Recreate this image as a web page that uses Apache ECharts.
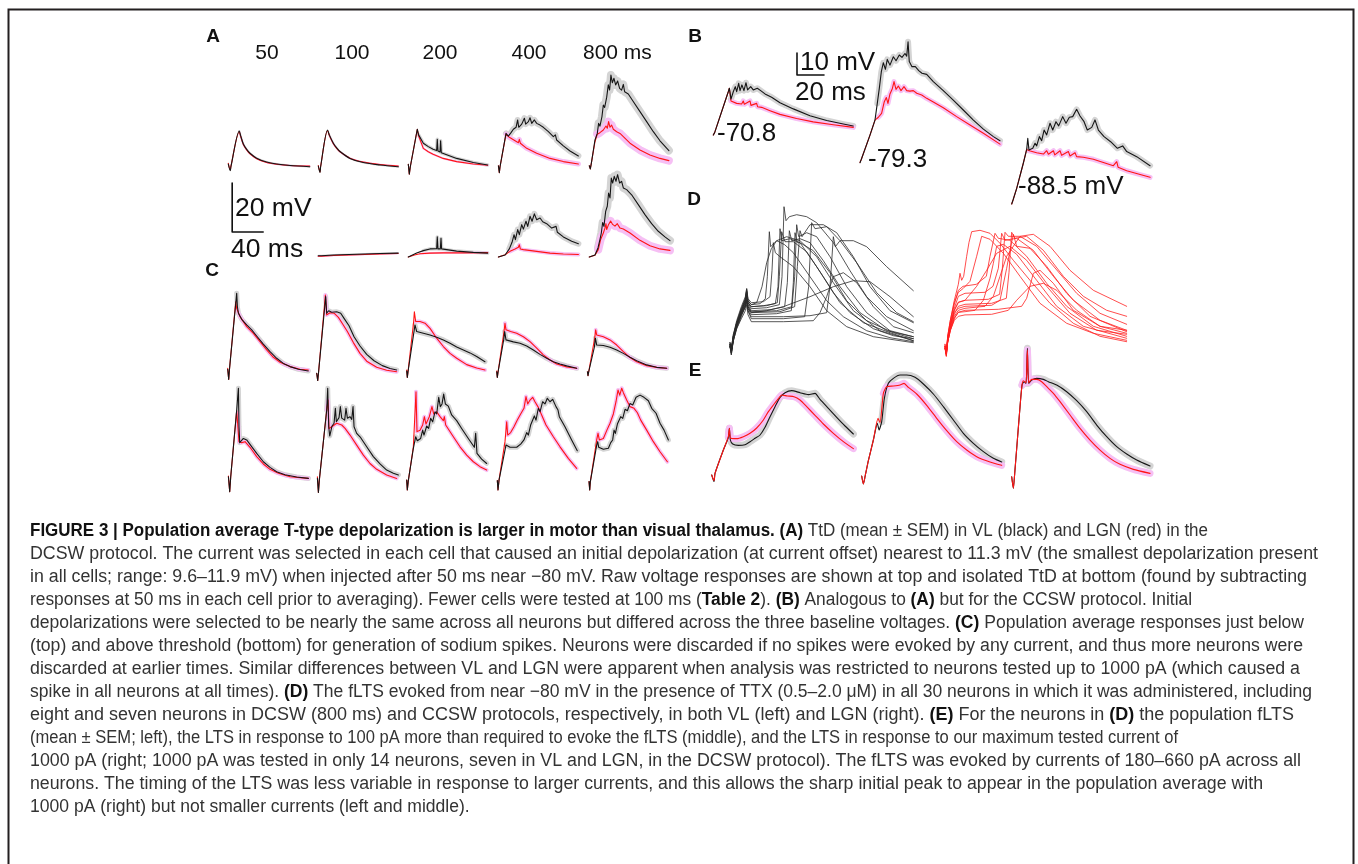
<!DOCTYPE html>
<html><head><meta charset="utf-8">
<script src="https://cdn.jsdelivr.net/npm/echarts@6/dist/echarts.min.js"></script>
<style>html,body{margin:0;padding:0;background:#fff}#c{width:1358px;height:864px}</style>
</head><body><div id="c"></div>
<script>
// ================= DATA (time in ms, voltage in mV) =================
const A_headers = ['50', '100', '200', '400', '800 ms'];
// ---- Panel A, raw responses (top row), VL = black, LGN = red ----
const A_top_50_VL = [[0,0.8],[2.6,-1.9],[3.4,-0.3],[14.2,14.3],[15.9,12.4],[19.4,9.0],[23.7,6.8],[28,5.2],[36.6,3.2],[49.5,1.6],[62.4,0.8],[79.6,0.2],[105,-0.3]];
const A_top_50_LGN = [[0,1.1],[2.6,-1.6],[3.4,0],[14.2,14.0],[15.9,12.2],[19.4,8.8],[23.7,6.6],[28,5.0],[36.6,3.0],[49.5,1.4],[62.4,0.7],[79.6,0.2],[105,0]];
const A_top_100_VL = [[0,0],[2.2,-2.7],[3,-0.3],[12,14.7],[14.2,12.7],[19.4,9.3],[23.7,7.4],[28,5.9],[40.9,3.1],[58,1.4],[79.6,0.4],[103.2,-0.3]];
const A_top_100_LGN = [[0,0.2],[2.2,-2.5],[3,-0.2],[12,14.5],[14.2,12.5],[19.4,9.1],[23.7,7.2],[28,5.8],[40.9,3.2],[58,1.6],[79.6,0.6],[103.2,0]];
const A_top_200_VL = [[0,0.7],[1.3,-3.3],[2.6,-0.3],[11.6,15],[13.3,12.7],[19.4,9.3],[25.8,7.9],[32,6.8],[36.6,6.3],[37.4,10.9],[38.3,6.1],[40.9,5.7],[41.7,10.3],[42.6,5.4],[49.5,4.6],[62.4,3.1],[83.9,1.4],[102.4,0.4]];
const A_top_200_LGN = [[0,0.7],[1.3,-3.3],[2.6,-0.3],[11.6,15],[13.3,12.3],[19.4,7.2],[25.8,5.8],[32,4.8],[45,3.1],[62.4,1.8],[83.9,0.8],[102.4,0.3]];
const A_top_400_VL = [[2.2,0.1],[3.4,-2.7],[4.3,-0.3],[12,13.3],[15,12.2],[18.5,13.6],[21.5,15],[25,15.8],[27,18.8],[28.4,15.8],[32.3,17.1],[35.7,19.5],[37.4,17.1],[40.9,18.1],[43,19.7],[45.2,17.4],[48.6,18.8],[51.6,17.4],[55.9,16.7],[60.2,15.8],[66.7,14],[73.1,12],[75.7,12.7],[77.4,10.6],[86,8.2],[94.6,6.1],[105.4,4.1]];
const A_top_400_LGN = [[2.2,0.1],[3.4,-2.7],[4.3,-0.3],[12,13],[16.3,11.7],[23.7,10.3],[28,9.5],[29.2,10.9],[30.5,9.3],[38.7,7.2],[51.6,5.2],[68.8,3.1],[86,1.8],[105.4,0.8]];
const A_top_800_VL = [[1.3,0.1],[2.6,-1.2],[3.9,1.1],[8.6,10.6],[11.6,13.3],[13.3,17.4],[15,16.3],[17.6,20.1],[19.4,24.9],[21.1,23.9],[23.7,28],[25.8,33.1],[27.5,31],[29.2,37.1],[31,34],[33.1,35.8],[35.3,33.1],[37.8,34.7],[40.4,31.7],[43,31],[45.2,33.3],[46.9,30.3],[51.6,29.4],[58,26.3],[66.7,22.2],[75.3,18.1],[83.9,14],[92.5,10.3],[104,6.3]];
const A_top_800_LGN = [[1.3,0.1],[2.6,-1.2],[3.9,1.1],[8.6,9.9],[11.6,13],[15,13.6],[19.4,14.7],[22.8,16.3],[24.5,15.4],[26.2,18.1],[28,15.8],[30.1,16.7],[32.3,15],[36.6,14],[40.9,13.3],[45.2,12],[53.8,9.3],[66.7,6.5],[79.6,4.5],[92.5,3.1],[104,2.2]];
// ---- Panel A, isolated TtD (bottom row) ----
const A_bot_100_VL = [[0,0.5],[2,0.9],[4,0.5],[20,0.8],[50,1.1],[80,1.4],[103,1.6]];
const A_bot_100_LGN = [[0,0.3],[2,0.7],[4,0.3],[20,0.6],[50,0.9],[80,1.2],[103,1.4]];
const A_bot_200_VL = [[0,0],[10.8,1.6],[19.4,2.6],[28,3.3],[36.6,3.4],[37.4,8.2],[38.3,3.3],[41.3,3.3],[42.2,7.6],[43,3.3],[49.5,3],[62.4,2.4],[83.9,1.9],[102.4,1.6]];
const A_bot_200_LGN = [[0,0],[8,0.8],[15,1.3],[28,1.6],[45,1.7],[70,1.7],[102.4,1.8]];
const A_bot_400_VL = [[2.2,0],[10.8,0.8],[16.3,3.3],[19.8,6],[22.4,9.1],[24.1,7.1],[27.1,11.2],[29.2,9.1],[32.3,13.2],[34.4,11.4],[37.8,14.6],[40,12.5],[43,16.6],[45.6,14.6],[48.6,17.6],[51.6,15.2],[55.9,15.9],[59.4,14.4],[64.5,13.6],[71,11.8],[76.6,12.5],[78.3,10.1],[86,8.2],[96.8,6.4],[105.4,5.4]];
const A_bot_400_LGN = [[2.2,0],[10.8,0.9],[17.2,2.3],[23.7,3.3],[28,4],[29.2,5],[30.5,3.3],[34.4,3],[51.6,2.3],[68.8,1.6],[86,1.2],[105.4,1]];
const A_bot_800_VL = [[1.3,0],[8.6,0.8],[12.5,3.7],[15,7.1],[16.8,9.8],[18.5,14.1],[20.2,12.5],[22.4,18.6],[24.5,20.7],[26.2,26.1],[28,24.1],[29.7,32.2],[31.4,30.2],[33.5,32.9],[35.7,30.9],[37.8,33.6],[40.4,30.2],[43,30.9],[45.2,28.2],[49.5,27.5],[55.9,25.4],[64.5,21.4],[73.1,17.3],[81.7,13.6],[90.3,10.5],[98.9,8.2],[105.4,6.7]];
const A_bot_800_LGN = [[1.3,0],[8.6,0.7],[12.9,3],[15.9,7.1],[19.4,9.8],[21.5,11.8],[22.8,13.6],[23.7,11.2],[26.2,13.3],[28.8,14.7],[31.4,13.3],[34.4,12.6],[37.4,13.6],[40.9,11.8],[45.2,11.4],[53.8,9.8],[66.7,6.8],[79.6,4.6],[92.5,3.3],[105.4,2.7]];

// ---- Panel B (CCSW), three baselines ----
const B_labels = ['-70.8', '-79.3', '-88.5 mV'];
const B_m70_VL = [[0,-0.8],[1,0.3],[11.1,18.9],[11.9,20.5],[13.1,15.5],[14.8,18.9],[16.3,21.2],[17.3,18.9],[18.8,22.7],[19.8,19.4],[21.2,22],[22.7,19.4],[24.2,23],[25.4,19.7],[27.7,21.2],[29.6,19.7],[32.6,20.5],[35.1,19.4],[38.3,17.9],[43.2,16.4],[49.4,13.9],[59.3,11.1],[71.6,8],[84,5.8],[96.3,4.2],[103.7,3.3]];
const B_m70_LGN = [[0,-0.8],[1,0.3],[11.1,18.9],[11.9,20.5],[13.1,14.7],[17.3,13.6],[21,13.3],[22.2,14.7],[23,13.2],[27.2,14.7],[27.9,12.7],[32.1,13.6],[32.8,12.1],[35.8,11.8],[42,10.3],[49.4,8.6],[61.7,6.7],[74,5.2],[88.9,3.9],[103.7,2.7]];
const B_m79_VL = [[0,-0.5],[1,1.1],[7.4,12.1],[11.1,18.9],[12.8,26.5],[14.3,33.3],[15.8,40.9],[17.3,45],[18.8,42],[20.2,46.5],[22.2,43.9],[24.7,47.7],[26.7,45.9],[29.1,48.5],[31.1,47.4],[33.3,49.2],[34.6,48],[35.6,54.5],[36.5,45.5],[38.5,43.2],[41,43.2],[43.5,41.4],[45.9,40.2],[49.4,39.7],[54.3,36.4],[61.7,32.3],[69.1,28],[76.5,23.5],[84,18.9],[91.4,14.8],[98.8,11.4],[103.7,9.5]];
const B_m79_LGN = [[0,-0.3],[1,1.1],[7.4,12.1],[11.1,18.9],[13.6,20.2],[16,22],[18,27.3],[19.5,29.2],[20.7,26.5],[22.2,30.8],[24,33.3],[25.2,36.4],[26.7,32.9],[28.4,34.4],[30.4,32.3],[32.6,34.1],[34.6,32.3],[37,32.1],[39.5,32.3],[42,31.1],[45.7,30.3],[49.4,28.8],[54.3,27.1],[61.7,24.5],[71.6,20.5],[81.5,16.7],[91.4,12.9],[103.7,8]];
const B_m88_VL = [[0,-0.3],[1,1.5],[3.7,6.8],[8.6,18.2],[11.1,24.5],[11.9,29.5],[12.8,24.2],[15.6,25],[17.3,27.3],[18.5,26.1],[20.5,30.3],[22.2,28.5],[24,33.3],[25.9,31.1],[28.4,36.4],[30.4,33.3],[32.8,37.1],[34.8,35.2],[37.8,39.4],[40.2,36.4],[42.7,39.1],[45.2,39.4],[48.1,42.7],[50.6,39.7],[53.6,37.1],[56,33.3],[59.3,34.5],[61.7,37.9],[64.2,33.3],[68.4,30.3],[73.3,28],[78.3,25],[82.2,26.1],[85.2,23.5],[92.6,21.2],[102.5,17.1]];
const B_m88_LGN = [[0,-0.3],[1,1.5],[3.7,6.8],[8.6,18.2],[11.1,24.5],[13.1,23.9],[18.5,23],[23.5,22.4],[25.9,23.9],[27.2,22.3],[30.9,23.9],[31.9,22],[35.8,23.9],[37,21.8],[42,23.5],[43.2,21.5],[46.9,23],[48.1,21.2],[53.1,20.9],[60.5,20],[67.9,18.5],[75.3,17.1],[77.8,18.9],[78.8,16.4],[85.2,14.8],[93.8,13.3],[102.5,11.8]];

// ---- Panel C, just below (top) and above (bottom) spike threshold ----
const C_top_50_VL = [[0,0],[1.3,-4.1],[2.2,-0.3],[11.6,31],[12.5,25.6],[13.8,22.9],[18.1,20.4],[24.5,18.1],[31,16.1],[37.4,13.6],[46,10.3],[54.6,7.2],[63.2,4.5],[71.8,2.4],[80.4,1.1],[91.2,0],[104,-0.7]];
const C_top_50_LGN = [[0,0.4],[1.3,-4.1],[2.2,-0.3],[10.3,27.6],[11.6,24.9],[15.9,21.5],[24.5,17.4],[33.1,14.7],[41.7,11.3],[50.3,7.9],[58.9,4.9],[67.5,2.9],[80.4,1.1],[93.3,0],[104,-0.3]];
const C_top_100_VL = [[0,-1.6],[1.3,-4.6],[2.2,-1.9],[11.6,29.7],[12.9,22.9],[15.5,23.9],[19.4,23.3],[25.8,23.5],[31,22.9],[35.3,20.8],[41.7,17.8],[48.2,13.3],[55.9,9.5],[64.5,6.1],[74,3.5],[84.7,1.5],[94.6,0.3],[103.2,-0.3]];
const C_top_100_LGN = [[0,-1.6],[1.3,-4.6],[2.2,-1.9],[11.2,30.3],[12.9,22.2],[17.2,23.1],[22.4,22.9],[28,21.2],[33.5,18.5],[39.6,15.4],[47.3,10.9],[55.9,6.5],[64.5,3.3],[77.4,0.8],[90.3,-0.4],[103.2,-1]];
const C_top_200_VL = [[0.9,-0.7],[1.7,-3.3],[2.6,-1],[10.3,15.4],[11.6,18.1],[13.8,15.4],[22.4,14.7],[31,14],[39.6,13.1],[48.2,12],[56.8,10.6],[65.4,9.1],[74,7.9],[82.6,6.7],[91.2,5.2],[101.9,3.1]];
const C_top_200_LGN = [[0.9,-0.3],[1.7,-3.3],[2.6,-1],[9.9,19.5],[10.8,23.5],[12.5,19.5],[18.1,19.5],[24.5,18.8],[31,16.7],[39.6,12.7],[48.2,9.3],[56.8,6.5],[65.4,4.5],[78.3,1.9],[91.2,0.5],[101.9,-0.3]];
const C_top_400_VL = [[0.9,-1],[1.7,-3.3],[2.6,-1.2],[9.9,12],[11.2,15.4],[12.9,12],[22.4,11.2],[31,10.6],[39.6,9.5],[48.2,7.9],[56.8,6.1],[65.4,4.5],[74,3.1],[82.6,2.2],[91.2,1.4],[104.1,0.4]];
const C_top_400_LGN = [[0.9,-0.7],[1.7,-3.3],[2.6,-1.2],[10.3,15.4],[11.6,18.8],[12.9,16.1],[18.9,15.4],[26.7,14.7],[35.3,13.3],[43.9,11.3],[52.5,8.6],[61.1,5.9],[69.7,3.8],[78.3,2.2],[91.2,1],[104.1,0.4]];
const C_top_800_VL = [[0.9,-1],[1.7,-2.6],[2.6,-1],[9.9,9],[11.2,12.7],[12.9,9.9],[21.5,9.7],[30.1,9],[38.7,7.9],[47.3,6.5],[55.9,4.9],[64.5,3.5],[77.4,1.8],[90.3,0.8],[103.2,0.4]];
const C_top_800_LGN = [[0.9,-1],[1.7,-2.6],[2.6,-1],[10.3,12.7],[11.6,16.1],[12.9,14],[21.5,13.3],[30.1,12],[38.7,9.9],[47.3,7.2],[55.9,4.8],[64.5,3.1],[77.4,1.5],[90.3,0.8],[103.2,0.4]];
const C_bot_50_VL = [[0.9,0],[2.6,-6.1],[3.9,0],[11.6,27.2],[13.8,36.1],[14.6,20.4],[15.5,13.9],[17.2,13.6],[20.2,15.6],[24.5,15],[29.7,12.8],[37.4,9.5],[46,6.1],[54.6,3.8],[63.2,2],[74,0.8],[89,-0.1],[104.1,-0.7]];
const C_bot_50_LGN = [[0.9,0.3],[2.6,-6.1],[3.9,0],[11.6,26.9],[12.9,26.1],[14.6,14.3],[18.1,13.9],[22.4,14.3],[28.8,12],[37.4,8.2],[46,5.2],[54.6,3],[65.4,1.4],[80.4,0],[104.1,-0.7]];
const C_bot_100_VL = [[0.9,-0.7],[2.2,-6.4],[3.4,-1.4],[12.9,27.2],[14.2,36.1],[15.5,20.4],[16.8,16.6],[19.8,20.7],[22.4,21.8],[24.1,27.9],[25.4,22.4],[28.8,24.1],[30.5,28.6],[32.3,23.9],[36.1,23.1],[37.8,27.9],[39.6,23.9],[43,24.5],[45.2,23.4],[46.9,28.6],[48.2,20.4],[51.6,17.7],[56.8,15.9],[64.5,12.2],[73.1,8.2],[81.7,5.2],[90.3,2.7],[98.9,1.4],[105.4,0.7]];
const C_bot_100_LGN = [[0.9,0],[2.2,-6.4],[3.4,-1.4],[12.9,27.2],[14.6,31.3],[15.9,19.7],[19.4,20.4],[25.8,21.8],[32.3,21.1],[36.6,19.7],[43,17],[51.6,12.9],[60.2,8.8],[68.8,5.4],[77.4,3],[90.3,0.7],[103.2,-0.7]];
const C_bot_200_VL = [[0.9,-1.4],[1.7,-5.4],[3,-1.6],[9.5,11.6],[12.5,16.3],[14.6,14.7],[18.9,15.6],[21.5,19],[23.2,17],[26.7,20.7],[29.2,19.7],[31.8,23.8],[34.4,22.4],[37.4,26.5],[39.6,25.6],[42.2,32.4],[44.3,28.6],[46.5,29.7],[48.6,33.7],[50.8,29.7],[54.6,28.8],[58.9,25.2],[65.4,22.9],[71.8,19.7],[80.4,15.6],[88.2,12],[89.9,17.7],[91.6,9.5],[97.6,7.2],[104.1,5.4]];
const C_bot_200_LGN = [[0.9,-1.4],[1.7,-5.4],[3,-1.6],[9.5,12.2],[12.9,34.7],[14.2,18.4],[18.1,19],[21.5,21.1],[23.7,24.5],[25.8,21.5],[30.1,24.5],[33.5,28.6],[35.7,25.6],[39.6,26.5],[43.9,24.5],[48.2,22.9],[49.5,24.5],[51.2,21.1],[61.1,16.3],[69.7,12.2],[78.3,8.8],[86.9,6.1],[95.5,4.1],[104.1,2.7]];
const C_bot_400_VL = [[1.7,-1.6],[2.6,-5.4],[3.9,-1.4],[12.9,12.9],[18.1,12],[26.7,12],[31.8,13.3],[36.1,15],[39.6,18],[41.7,17],[44.7,21.1],[46.9,20.4],[49.5,24.8],[51.6,23.1],[54.6,27.9],[56.8,26.5],[60.2,30.6],[63.2,29.7],[66.2,32],[69.7,30.6],[73.1,31.6],[77.4,28.6],[80,27.2],[81.7,24.5],[89,20.4],[97.6,15],[104.9,10.6]];
const C_bot_400_LGN = [[1.7,-1.6],[2.6,-5.4],[3.9,-1.4],[11.6,14.3],[13.8,22.4],[15.1,17],[18.9,18],[23.2,20.4],[27.5,23.1],[31.8,25.6],[36.1,27.9],[38.7,32.7],[40.9,29.7],[43.9,31.3],[47.3,32.4],[50.3,30.6],[54.6,28.3],[58.9,25.2],[64.5,21.1],[74,16.3],[82.6,12.2],[93.3,7.5],[104.1,3.4]];
const C_bot_800_VL = [[3,-2],[3.9,-5.4],[4.7,-2],[12.9,12.9],[14.2,14.3],[15.5,12],[21.5,11.2],[28,11.6],[31,13.9],[33.5,15],[35.3,19],[37,17.7],[39.6,21.5],[41.7,20.7],[43.9,24.5],[46.5,23.8],[49.5,27.5],[52.5,26.9],[55.9,29.9],[59.4,29.3],[63.7,32.4],[68.8,33.3],[73.9,32.4],[79.6,31],[83.9,27.9],[89.5,25.9],[94.6,21.8],[99.8,19],[105.4,15]];
const C_bot_800_LGN = [[3,-2],[3.9,-5.4],[4.7,-2],[12.9,15],[14.6,17.7],[16.3,15],[21.5,15.6],[25.8,18.8],[30.1,21.8],[34.4,25.6],[37.8,30.6],[40.4,35.4],[42.6,33.3],[45.2,36.1],[47.3,34.3],[51.6,31.3],[55.9,28.6],[61.1,27.9],[65.4,26.1],[69.7,23.1],[77.4,19],[86,14.3],[94.6,10.2],[104.1,6.1]];

// ---- Panel D, individual fLTS traces in TTX (absolute mV) ----
const D_VL = [
  [[0,-79],[2,-82],[5,-75],[10,-68],[17,-61],[23,-56],[25,-51],[27,-57],[32,-59],[45,-58.5],[53,-56],[56,-45],[59,-22.5],[61,-30],[70,-27],[82,-29],[95,-33],[120,-45],[145,-57],[170,-65],[205,-72],[240,-75.5],[275,-77.5]],
  [[0,-80],[2,-83],[5,-76],[10,-69],[17,-62],[23,-57],[25,-53],[27,-58],[32,-60],[50,-59.5],[68,-58.5],[72,-50],[75,-21],[77.5,-27],[90,-26],[105,-28],[130,-40],[155,-53],[180,-63],[215,-71],[245,-74.5],[275,-76]],
  [[0,-78],[2,-81],[5,-74],[10,-68],[17,-62],[23,-57],[25,-52],[27,-58],[32,-61],[55,-60.5],[74,-59],[78,-45],[81,-10],[84,-17],[89,-15],[100,-14],[115,-15],[130,-18],[155,-28],[180,-42],[205,-55],[235,-65],[275,-72]],
  [[0,-79],[2,-84],[5,-76],[10,-70],[17,-63],[23,-58],[25,-54],[27,-59],[32,-62],[60,-61.5],[82,-60],[86,-48],[89,-22],[92.5,-27],[105,-26],[120,-28],[140,-37],[165,-50],[195,-63],[235,-72],[275,-75]],
  [[0,-80],[2,-82],[5,-76],[10,-69],[17,-63],[23,-58],[25,-55],[27,-60],[32,-62.5],[70,-62],[93,-60],[97,-45],[100,-19],[103,-25],[115,-23],[130,-25],[150,-35],[175,-50],[205,-63],[240,-72],[275,-75]],
  [[0,-78],[2,-81],[5,-75],[10,-69],[17,-63],[23,-59],[25,-55],[27,-60],[32,-63],[75,-62.5],[97,-60],[101,-40],[105,-22],[108,-25],[120,-19],[140,-19],[160,-23],[185,-35],[210,-50],[240,-62],[275,-68]],
  [[0,-79],[2,-83],[5,-77],[10,-71],[17,-65],[23,-60],[25,-57],[27,-62],[32,-65],[80,-65],[120,-64.5],[145,-63],[150,-50],[155,-25],[158,-30],[165,-27],[185,-27],[205,-30],[235,-40],[275,-52]],
  [[0,-80],[2,-82],[5,-75],[10,-68],[17,-61],[23,-56],[25,-52],[27,-57],[32,-59],[40,-58],[48,-50],[55,-38],[62,-31],[70,-27],[85,-25],[105,-27],[130,-35],[155,-48],[185,-62],[225,-72],[275,-77]],
  [[0,-78],[2,-82],[5,-76],[10,-70],[17,-64],[23,-60],[25,-57],[27,-61],[32,-63],[55,-62],[80,-60],[120,-55],[155,-50],[185,-47],[210,-47.5],[240,-55],[275,-65]],
  [[0,-79],[2,-81],[5,-74],[10,-67],[17,-60],[23,-55],[25,-51],[27,-56],[32,-58],[50,-57.5],[60,-55],[63,-42],[65,-28],[68,-33],[75,-35],[95,-40],[120,-50],[145,-62],[175,-70],[215,-75],[275,-78]],
  [[0,-80],[2,-84],[5,-77],[10,-70],[17,-64],[23,-59],[25,-56],[27,-61],[32,-64],[70,-63.5],[92,-62],[95,-48],[97.5,-23],[101,-28],[105,-28],[125,-32],[150,-43],[175,-57],[205,-67],[245,-73],[275,-76]],
  [[0,-79],[2,-82],[5,-76],[10,-70],[17,-64],[23,-60],[25,-57],[27,-62],[32,-66],[80,-66],[112,-65],[118,-50],[122.5,-18],[127.5,-21],[145,-20],[165,-27],[190,-38],[220,-53],[250,-63],[275,-67.5]],
  [[0,-80],[2,-83],[5,-77],[10,-71],[17,-66],[23,-62],[25,-59],[27,-64],[32,-67.5],[80,-67.5],[125,-67],[135,-63],[145,-55],[155,-45],[170,-43],[190,-48],[215,-60],[245,-70],[275,-73]],
  [[0,-79],[2,-82],[5,-75],[10,-69],[17,-62],[23,-57],[25,-53],[27,-58],[32,-60],[55,-59.5],[71,-58],[74,-45],[77.5,-22.5],[82.5,-27.5],[95,-27.5],[115,-32.5],[140,-45],[165,-58],[200,-68],[240,-73],[275,-77]]
];
const D_LGN = [
  [[0,-79],[2,-83],[4,-74],[8,-66],[14,-56],[20,-48],[22.5,-42.5],[25,-46],[28,-44],[32.5,-34],[36,-27],[40,-21.7],[52.5,-21],[67.5,-22.5],[82.5,-27.5],[102.5,-36],[127.5,-46],[157.5,-57.5],[192.5,-67.5],[232.5,-74],[272.5,-76.7]],
  [[0,-80],[2,-82],[4,-75],[8,-67],[14,-58],[20,-51],[27,-49],[47,-48],[62,-44],[67.5,-34],[75,-22.5],[80,-25],[97.5,-26],[122.5,-34],[152.5,-47.5],[182.5,-59],[222.5,-69],[272.5,-74]],
  [[0,-78],[2,-82],[4,-76],[8,-68],[14,-60],[20,-54],[30,-52.5],[60,-52],[72,-49],[80,-40],[85,-22.5],[90,-26],[107.5,-25],[132.5,-31],[162.5,-44],[192.5,-56],[232.5,-66],[272.5,-71]],
  [[0,-79],[2,-84],[4,-76],[8,-69],[14,-61],[20,-57],[30,-56],[65,-55.5],[82,-53],[86,-40],[90,-22],[95,-24],[112.5,-24],[137.5,-29],[167.5,-40.8],[197.5,-52.5],[232.5,-62.5],[272.5,-68]],
  [[0,-80],[2,-83],[4,-77],[8,-70],[14,-63],[20,-59],[30,-58],[70,-57.5],[92,-55],[96,-42],[100,-22],[105,-25],[122.5,-24],[147.5,-31],[177.5,-44],[207.5,-54],[242.5,-61],[272.5,-64]],
  [[0,-79],[2,-82],[4,-76],[8,-70],[14,-64],[20,-61],[30,-60],[60,-59],[72.5,-54],[82.5,-44],[92.5,-34],[112.5,-24],[132.5,-23],[157.5,-29],[187.5,-41],[222.5,-51],[272.5,-59]],
  [[0,-80],[2,-84],[4,-77],[8,-71],[14,-65],[20,-62],[30,-61.7],[45,-61],[57.5,-56],[67.5,-45],[72.5,-37.5],[77.5,-29],[87.5,-28],[107.5,-33],[137.5,-46],[167.5,-59],[207.5,-69],[272.5,-75]],
  [[0,-79],[2,-83],[4,-77],[8,-71],[14,-66],[20,-64],[30,-63.3],[70,-63],[95,-61],[107.5,-56],[127.5,-49],[147.5,-47.5],[167.5,-51],[197.5,-61],[232.5,-69],[272.5,-72.5]],
  [[0,-80],[2,-82],[4,-75],[8,-68],[14,-61],[20,-57],[30,-56],[47.5,-49],[62.5,-41],[77.5,-32.5],[97.5,-29],[122.5,-36],[152.5,-49],[187.5,-62.5],[227.5,-71],[272.5,-73]],
  [[0,-78],[2,-83],[4,-76],[8,-69],[14,-62],[20,-60],[30,-59],[70,-58.5],[82.5,-56],[92.5,-40],[97.5,-31],[102.5,-23],[107.5,-29],[127.5,-30],[152.5,-39],[182.5,-52.5],[217.5,-64],[272.5,-71.7]],
  [[0,-79],[2,-82],[4,-77],[8,-71],[14,-65],[20,-62],[30,-61],[80,-60.5],[115,-59],[122.5,-55],[132.5,-42.5],[142.5,-41],[162.5,-47.5],[192.5,-61],[232.5,-69],[272.5,-71]],
  [[0,-80],[2,-83],[4,-74],[8,-66],[14,-57],[20,-52],[27.5,-50],[37.5,-46.5],[47.5,-34],[55,-24],[67.5,-25.5],[87.5,-32.5],[112.5,-44],[142.5,-57.5],[182.5,-67.5],[222.5,-72.5],[272.5,-76]]
];

// ---- Panel E, population LTS (absolute mV) ----
const E_fLTS_VL = [[0,-80],[3.5,-84],[5,-79],[17.5,-65],[25,-57.4],[26.5,-52],[28,-59],[31.5,-61.4],[40,-62.2],[50,-61.8],[57.5,-60],[65,-58],[72.5,-56],[80,-51.4],[87.5,-45],[95,-39],[102.5,-33.4],[110,-30.6],[120,-29.4],[132.5,-30.6],[145,-31.8],[155,-31],[162.5,-34.6],[175,-40],[187.5,-45.4],[200,-50.6],[212.5,-55.4]];
const E_fLTS_LGN = [[0,-80],[3.5,-83.4],[5,-79],[17.5,-65],[25,-57],[26.5,-52],[28.5,-58],[37.5,-58.2],[47.5,-57],[57.5,-55],[67.5,-51.8],[77.5,-47],[85,-42],[92.5,-38],[100,-34.2],[105,-32],[113.5,-32.6],[123.5,-33],[132.5,-35],[142.5,-39],[155,-44.2],[167.5,-49.4],[182.5,-55],[197.5,-60],[212.5,-64.2]];
const E_100_VL = [[0,-80],[2.5,-84.8],[5,-80.4],[10,-70.8],[17.5,-58.4],[23.5,-48.4],[26,-52.4],[30,-47.4],[34,-33.4],[40,-24.4],[47.5,-21.4],[57.5,-19.4],[67.5,-19.4],[80,-20.8],[92.5,-24.8],[107.5,-30.8],[122.5,-38.4],[137.5,-46.4],[152.5,-54.4],[167.5,-60.4],[182.5,-65.4],[197.5,-69.4],[210,-71.6]];
const E_100_LGN = [[0,-80],[2.5,-84.8],[5,-80.4],[10,-70.8],[17.5,-58.4],[24.5,-45.4],[27.5,-48],[32.5,-30.4],[37.5,-26.4],[47.5,-26],[57.5,-25.4],[63.5,-24.4],[70,-26.8],[82.5,-30.8],[97.5,-37.6],[112.5,-45.4],[127.5,-52.8],[142.5,-59.4],[157.5,-64.4],[172.5,-68.4],[192.5,-71.6],[210,-73.6]];
const E_1000_VL = [[0,-80],[2.5,-87],[4.5,-78],[8.5,-58],[12.5,-38],[15.5,-25],[18.5,-23],[21.5,-24],[23.5,-3],[25.5,-24],[30,-22],[37.5,-21],[47.5,-21.6],[55,-23],[67.5,-25],[82.5,-29],[97.5,-34.4],[112.5,-41],[127.5,-49],[142.5,-56],[157.5,-62],[172.5,-66.4],[187.5,-70],[207.5,-73.6]];
const E_1000_LGN = [[0,-80],[2.5,-87],[4.5,-78],[8.5,-58],[12.5,-38],[15.5,-25],[17.5,-22.4],[21.5,-23.6],[23.5,-4],[25.5,-23.6],[30,-21.6],[37.5,-21.6],[45,-23],[52.5,-26],[62.5,-30],[72.5,-35],[87.5,-43],[102.5,-51],[117.5,-58],[132.5,-64],[147.5,-69],[162.5,-72.6],[182.5,-75.6],[207.5,-78]];

// scale bars (data units)
const scaleA = {mV: 20, ms: 40};
const scaleB = {mV: 10, ms: 20};

// ================= BUILD =================
const FONT = '"Liberation Sans", Arial, Helvetica, sans-serif';
const VL = '#151515', LGN = '#ff1414', SEM_VL = '#d4d4d4', SEM_LGN = '#f6bff4';
const grids = [], xAxes = [], yAxes = [], series = [];
function addGrid(left, basePx, baseV, pxMs, pxMv, tMax, vMin, vMax) {
  const i = grids.length;
  grids.push({left: left, top: basePx - (vMax - baseV) * pxMv, width: tMax * pxMs, height: (vMax - vMin) * pxMv, containLabel: false});
  xAxes.push({type: 'value', gridIndex: i, min: 0, max: tMax, show: false});
  yAxes.push({type: 'value', gridIndex: i, min: vMin, max: vMax, show: false});
  return i;
}
function line(i, data, color, width, z, smooth) {
  series.push({type: 'line', xAxisIndex: i, yAxisIndex: i, data: data, symbol: 'none', showSymbol: false,
    smooth: smooth || false, clip: false, silent: true, animation: false, z: z,
    lineStyle: {color: color, width: width, cap: 'round', join: 'round'}});
}
// SEM bands are drawn as a wide translucent stroke behind each mean trace, from time tb onward
function pair(i, vl, lgn, bVL, bLGN, redTop, smooth, tb) {
  const from = arr => tb ? arr.filter(p => p[0] >= tb) : arr;
  if (bVL) line(i, from(vl), SEM_VL, bVL, 1, smooth);
  if (bLGN) line(i, from(lgn), SEM_LGN, bLGN, 1, smooth);
  line(i, lgn, LGN, 1.1, redTop ? 4 : 2, smooth);
  line(i, vl, VL, 1.1, 3, smooth);
}

// Panel A
const A_left = [228.3, 318.3, 408.3, 496.7, 588.3];
const A_topTr = [[A_top_50_VL, A_top_50_LGN, 2, 1.5, 0.3, 13], [A_top_100_VL, A_top_100_LGN, 2, 1.5, 0.3, 13], [A_top_200_VL, A_top_200_LGN, 3.5, 2, 0, 13], [A_top_400_VL, A_top_400_LGN, 6, 5, 0, 11], [A_top_800_VL, A_top_800_LGN, 8, 8, 0, 9]];
const A_botTr = [null, [A_bot_100_VL, A_bot_100_LGN, 2, 1.5, 0, 0], [A_bot_200_VL, A_bot_200_LGN, 3.5, 2, 0, 15], [A_bot_400_VL, A_bot_400_LGN, 6, 4, 0, 12], [A_bot_800_VL, A_bot_800_LGN, 8, 8, 0, 10]];
let scaleGridA = -1;
A_left.forEach((L, c) => {
  const gt = addGrid(L, 166, 0, 0.775, 2.45, 106, -8, 40);
  const t = A_topTr[c]; pair(gt, t[0], t[1], t[2], t[3], false, t[4], t[5]);
  const gb = addGrid(L, 257, 0, 0.775, 2.45, 106, -8, 40);
  const b = A_botTr[c];
  if (b) pair(gb, b[0], b[1], b[2], b[3], false, b[4], b[5]); else scaleGridA = gb;
});
// A scale bar drawn through the panel's own axes
line(scaleGridA, [[5, 10.2 + scaleA.mV], [5, 10.2], [5 + scaleA.ms, 10.2]], '#111', 1.6, 3);

// Panel B
const B_left = [713.3, 860, 1011.7], B_base = [133.3, 161.7, 203.3];
const B_tr = [[B_m70_VL, B_m70_LGN], [B_m79_VL, B_m79_LGN], [B_m88_VL, B_m88_LGN]];
B_tr.forEach((tr, k) => {
  const g = addGrid(B_left[k], B_base[k], 0, 1.35, 2.2, 106, -3, 58);
  pair(g, tr[0], tr[1], 6, 5, false, 0, 12.5);
  if (k === 0) line(g, [[62, 26.5 + scaleB.mV], [62, 26.5], [62 + scaleB.ms, 26.5]], '#111', 1.6, 3);
});

// Panel C
const C_left = [227.7, 316.7, 406, 496, 586.7];
const C_topTr = [[C_top_50_VL, C_top_50_LGN], [C_top_100_VL, C_top_100_LGN], [C_top_200_VL, C_top_200_LGN], [C_top_400_VL, C_top_400_LGN], [C_top_800_VL, C_top_800_LGN]];
const C_botTr = [[C_bot_50_VL, C_bot_50_LGN], [C_bot_100_VL, C_bot_100_LGN], [C_bot_200_VL, C_bot_200_LGN], [C_bot_400_VL, C_bot_400_LGN], [C_bot_800_VL, C_bot_800_LGN]];
C_left.forEach((L, c) => {
  const gt = addGrid(L, 369.3, 0, 0.775, 2.45, 106, -8, 40);
  pair(gt, C_topTr[c][0], C_topTr[c][1], 5, 4, false, 0, 11);
  const gb = addGrid(L, 476.7, 0, 0.775, 2.45, 106, -8, 40);
  pair(gb, C_botTr[c][0], C_botTr[c][1], 5, 4, false, 0, 12);
});

// Panel D
const gD1 = addGrid(730, 346.7, -80, 0.6667, 2, 280, -90, -5);
D_VL.forEach(tr => line(gD1, tr, '#2b2b2b', 0.8, 2));
const gD2 = addGrid(945, 348.3, -80, 0.6667, 2, 280, -90, -5);
D_LGN.forEach(tr => line(gD2, tr, '#ff2020', 0.8, 2));

// Panel E
const E_left = [711.7, 861.7, 1011.7], E_base = [475, 476, 476.7], E_tb = [24, 30, 14];
const E_tr = [[E_fLTS_VL, E_fLTS_LGN], [E_100_VL, E_100_LGN], [E_1000_VL, E_1000_LGN]];
E_tr.forEach((tr, k) => {
  const g = addGrid(E_left[k], E_base[k], -80, 0.6667, 1.6667, 215, -92, 0);
  pair(g, tr[0], tr[1], 7, 7, true, 0.2, E_tb[k]);
});

// ---------- texts ----------
const gfx = [];
function txt(x, y, s, size, opts) {
  opts = opts || {};
  gfx.push({type: 'text', x: x, y: y, silent: true, z: 10,
    style: {text: s, fontSize: size, fontFamily: FONT, fontWeight: opts.bold ? 'bold' : 'normal',
      fill: opts.fill || '#111', align: opts.align || 'left', verticalAlign: 'middle',
      textAlign: opts.align || 'left', textVerticalAlign: 'middle'}});
}
txt(213, 37, 'A', 19, {bold: true, align: 'center'});
txt(695, 37, 'B', 19, {bold: true, align: 'center'});
txt(212, 271, 'C', 19, {bold: true, align: 'center'});
txt(694, 200, 'D', 19, {bold: true, align: 'center'});
txt(695, 371, 'E', 19, {bold: true, align: 'center'});
const A_hx = [267, 352, 440, 529, 583];
A_headers.forEach((h, k) => txt(A_hx[k], 53, h, 21, {align: k === 4 ? 'left' : 'center'}));
txt(235, 209, scaleA.mV + ' mV', 26.5);
txt(231, 250, scaleA.ms + ' ms', 26.5);
txt(800, 63, scaleB.mV + ' mV', 26);
txt(795, 93, scaleB.ms + ' ms', 26);
const B_lx = [717, 868, 1018], B_ly = [134, 160, 187];
B_labels.forEach((s, k) => txt(B_lx[k], B_ly[k], s, 26));

// caption
const CAP = [
  '{b|FIGURE 3 | Population average T-type depolarization is larger in motor than visual thalamus. (A)}{n| TtD (mean ± SEM) in VL (black) and LGN (red) in the}',
  '{n|DCSW protocol. The current was selected in each cell that caused an initial depolarization (at current offset) nearest to 11.3 mV (the smallest depolarization present}',
  '{n|in all cells; range: 9.6–11.9 mV) when injected after 50 ms near −80 mV. Raw voltage responses are shown at top and isolated TtD at bottom (found by subtracting}',
  '{n|responses at 50 ms in each cell prior to averaging). Fewer cells were tested at 100 ms (}{b|Table 2}{n|). }{b|(B)}{n| Analogous to }{b|(A)}{n| but for the CCSW protocol. Initial}',
  '{n|depolarizations were selected to be nearly the same across all neurons but differed across the three baseline voltages. }{b|(C)}{n| Population average responses just below}',
  '{n|(top) and above threshold (bottom) for generation of sodium spikes. Neurons were discarded if no spikes were evoked by any current, and thus more neurons were}',
  '{n|discarded at earlier times. Similar differences between VL and LGN were apparent when analysis was restricted to neurons tested up to 1000 pA (which caused a}',
  '{n|spike in all neurons at all times). }{b|(D)}{n| The fLTS evoked from near −80 mV in the presence of TTX (0.5–2.0 μM) in all 30 neurons in which it was administered, including}',
  '{n|eight and seven neurons in DCSW (800 ms) and CCSW protocols, respectively, in both VL (left) and LGN (right). }{b|(E)}{n| For the neurons in }{b|(D)}{n| the population fLTS}',
  '{n|(mean ± SEM; left), the LTS in response to 100 pA more than required to evoke the fLTS (middle), and the LTS in response to our maximum tested current of}',
  '{n|1000 pA (right; 1000 pA was tested in only 14 neurons, seven in VL and LGN, in the DCSW protocol). The fLTS was evoked by currents of 180–660 pA across all}',
  '{n|neurons. The timing of the LTS was less variable in response to larger currents, and this allows the sharp initial peak to appear in the population average with}',
  '{n|1000 pA (right) but not smaller currents (left and middle).}'
];
// right edge of each caption line (last line: natural width)
const CAP_END = [1208, 1318, 1307, 1192, 1304, 1303, 1300, 1312, 1294, 1178, 1301, 1263, null];
const capSize = 18;
const cv = document.createElement('canvas').getContext('2d');
function measureRich(s) {
  let w = 0; const re = /\{(n|b)\|([^}]*)\}/g; let m;
  while ((m = re.exec(s))) {
    cv.font = (m[1] === 'b' ? 'bold ' : '') + capSize + 'px ' + FONT;
    w += cv.measureText(m[2]).width;
  }
  return w;
}
const scales = CAP.map((s, k) => CAP_END[k] ? (CAP_END[k] - 30) / measureRich(s) : null);
const known = scales.filter(v => v);
const meanScale = known.reduce((a, b) => a + b, 0) / known.length;
CAP.forEach((s, k) => {
  gfx.push({type: 'text', x: 30, y: 531 + 23 * k, scaleX: scales[k] || meanScale, silent: true, z: 10,
    style: {text: s, fontSize: capSize, fontFamily: FONT, fill: '#333', verticalAlign: 'middle', textVerticalAlign: 'middle',
      rich: {n: {fontSize: capSize, fontFamily: FONT, fill: '#333'},
             b: {fontSize: capSize, fontFamily: FONT, fontWeight: 'bold', fill: '#111'}}}});
});
gfx.push({type: 'rect', silent: true, z: 10, shape: {x: 8.5, y: 9.5, width: 1345, height: 900},
  style: {fill: 'none', stroke: '#231f20', lineWidth: 2}});

const chart = echarts.init(document.getElementById('c'), null, {renderer: 'canvas'});
chart.setOption({animation: false, backgroundColor: '#fff', grid: grids, xAxis: xAxes, yAxis: yAxes, series: series, graphic: gfx});
</script></body></html>
